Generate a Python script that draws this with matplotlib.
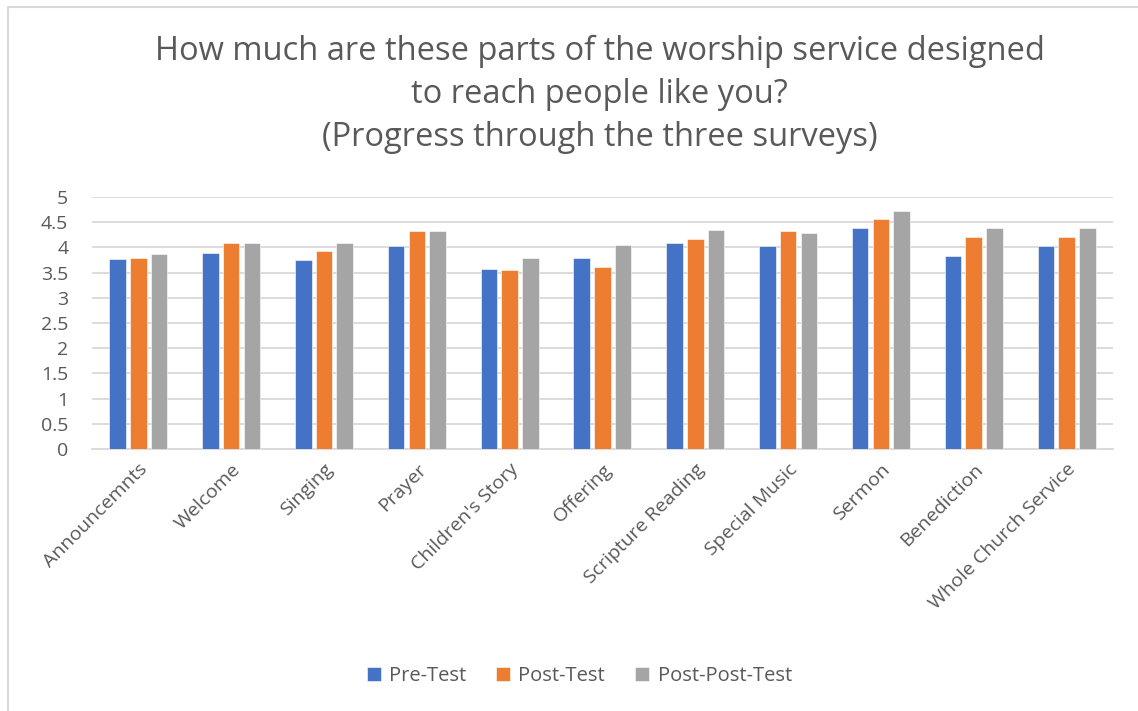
import matplotlib
matplotlib.use('Agg')
import matplotlib.pyplot as plt
from matplotlib.patches import Rectangle
import numpy as np

categories = ['Announcemnts', 'Welcome', 'Singing', 'Prayer', "Children's Story",
              'Offering', 'Scripture Reading', 'Special Music', 'Sermon',
              'Benediction', 'Whole Church Service']
pre_test = [3.77, 3.89, 3.75, 4.03, 3.57, 3.78, 4.08, 4.03, 4.39, 3.83, 4.03]
post_test = [3.78, 4.09, 3.93, 4.32, 3.55, 3.61, 4.17, 4.32, 4.57, 4.21, 4.21]
post_post_test = [3.87, 4.08, 4.08, 4.32, 3.78, 4.05, 4.34, 4.28, 4.73, 4.39, 4.39]
series_names = ['Pre-Test', 'Post-Test', 'Post-Post-Test']
yticks = [0, 0.5, 1, 1.5, 2, 2.5, 3, 3.5, 4, 4.5, 5]
ytick_labels = ['0', '0.5', '1', '1.5', '2', '2.5', '3', '3.5', '4', '4.5', '5']

colors = ['#4472C4', '#ED7D31', '#A5A5A5']
txt = '#595959'
plt.rcParams['font.family'] = ['Open Sans', 'DejaVu Sans']

fig = plt.figure(figsize=(11.38, 7.11), dpi=100)
ax = fig.add_axes([0.0808, 0.3685, 0.8972, 0.3545])

# outer chart frame (top and left edges only visible)
fig.patches.append(Rectangle((8 / 1138, -0.1), 1.2, 1 - 7 / 711 + 0.1,
                             transform=fig.transFigure, fill=False,
                             edgecolor='#D9D9D9', linewidth=1.5))

x = np.arange(len(categories))
width = 0.178
step = 0.223
for i, vals in enumerate([pre_test, post_test, post_post_test]):
    ax.bar(x + (i - 1) * step, vals, width, color=colors[i], label=series_names[i],
           edgecolor='white', linewidth=0.4, zorder=3)

ax.set_xlim(-0.5, len(categories) - 0.5)
ax.set_ylim(0, 5)
ax.set_yticks(yticks)
ax.set_yticklabels(ytick_labels, fontsize=14, color=txt)
ax.set_xticks(x)
ax.set_xticklabels(categories, rotation=45, ha='right', rotation_mode='anchor',
                   fontsize=14, color=txt)
ax.tick_params(axis='both', length=0)
ax.tick_params(axis='y', pad=17)
ax.tick_params(axis='x', pad=8)
ax.grid(axis='y', color='#D9D9D9', linewidth=1.3, zorder=0)
for s in ['top', 'right', 'left']:
    ax.spines[s].set_visible(False)
ax.spines['bottom'].set_color('#D9D9D9')
ax.spines['bottom'].set_linewidth(1.3)

fig.text(0.527, 0.867, 'How much are these parts of the worship service designed\n'
         'to reach people like you?\n(Progress through the three surveys)',
         ha='center', va='center', fontsize=23.5, color=txt, linespacing=1.4)

leg = ax.legend(loc='center', bbox_to_anchor=(0.509, 0.049), bbox_transform=fig.transFigure,
                ncol=3, frameon=False, fontsize=14.5, handlelength=0.7, handleheight=0.7,
                columnspacing=1.5, handletextpad=0.4)
for t in leg.get_texts():
    t.set_color(txt)

fig.savefig('out.png', dpi=100, facecolor='white')
